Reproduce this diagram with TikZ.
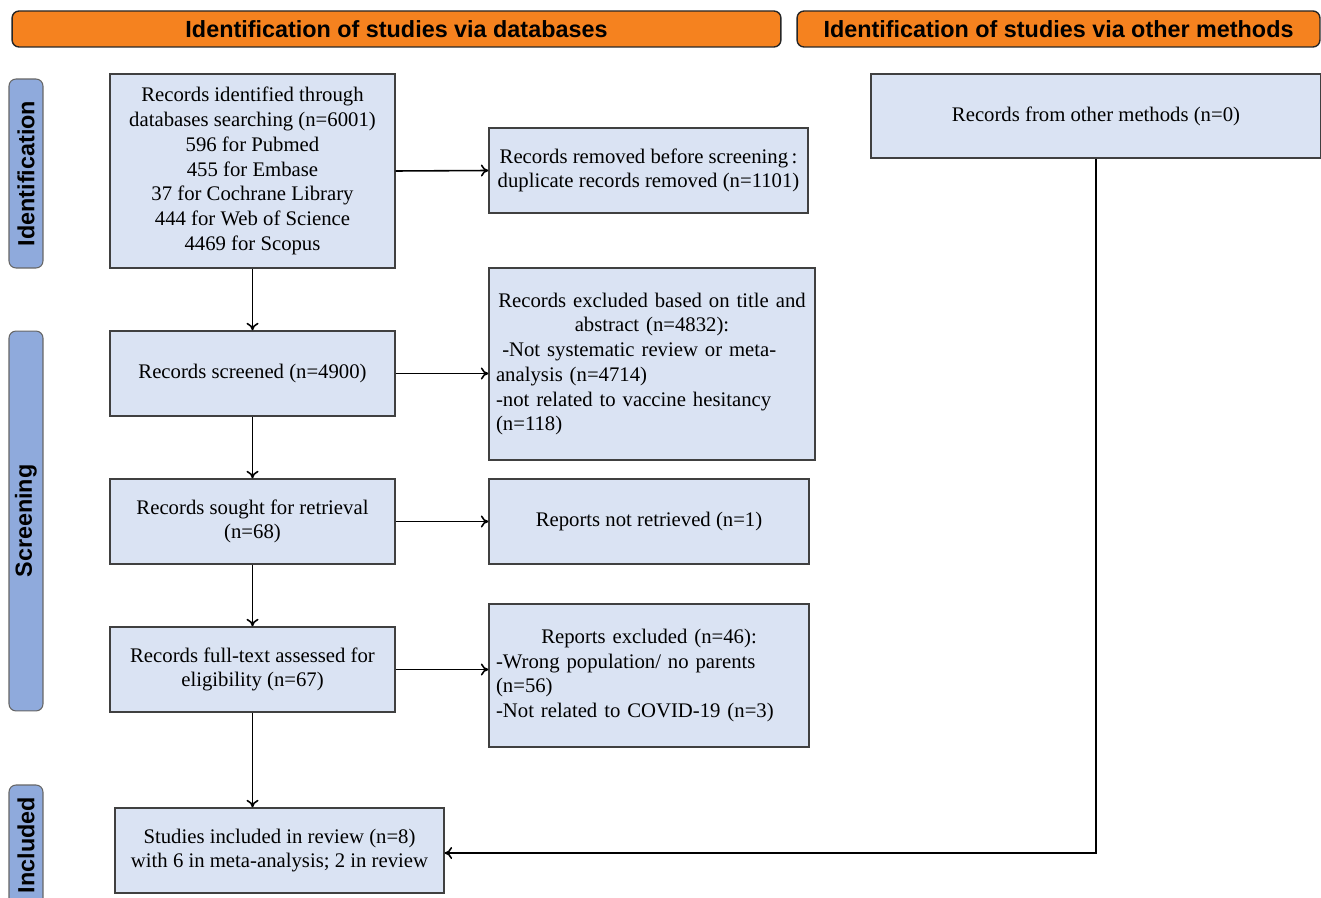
\documentclass[tikz,border=0pt]{standalone}
\usepackage{fontspec}
\setmainfont{Liberation Serif}
\setsansfont{Liberation Sans}
\usetikzlibrary{arrows.meta}

\definecolor{headorange}{HTML}{F5821F}
\definecolor{phaseblue}{HTML}{8FAADC}
\definecolor{boxblue}{HTML}{DAE3F3}
\definecolor{edgegray}{HTML}{404040}

\begin{document}
\begin{tikzpicture}[x=0.02cm,y=-0.02cm,
    box/.style={draw=edgegray, line width=0.8pt, fill=boxblue, inner sep=0pt,
      font=\fontsize{11.8}{14.1}\selectfont, align=center},
    head/.style={draw=black!85, line width=0.8pt, fill=headorange, rounded corners=4pt,
      inner sep=0pt, minimum height=0.72cm, font=\sffamily\bfseries\fontsize{13.3}{16}\selectfont},
    phase/.style={draw=edgegray!80, line width=0.6pt, fill=phaseblue, rounded corners=4pt,
      rotate=90, inner sep=0pt, minimum height=0.68cm, font=\sffamily\bfseries\fontsize{13.3}{16}\selectfont},
    arr/.style={-{To[length=1.5mm,width=2.4mm]}, line width=0.9pt}]
  \useasboundingbox (0,0) rectangle (1321,898);

  % Headers
  \node[head, minimum width=15.38cm] (hdb) at (396.5,29) {Identification of studies via databases};
  \node[head, minimum width=10.46cm] (hother) at (1058.5,29) {Identification of studies via other methods};

  % Phases
  \node[phase, minimum width=3.78cm] (pid) at (26,173.5) {Identification};
  \node[phase, minimum width=7.6cm] (pscr) at (26,521) {Screening};
  \node[phase, minimum width=2.4cm] (pinc) at (26,845) {Included};

  % Boxes
  \node[box, minimum width=5.7cm, minimum height=3.88cm] (ident) at (252.5,171)
    {Records identified through\\ databases searching (n=6001)\\ 596 for Pubmed\\ 455 for Embase\\
     37 for Cochrane Library\\ 444 for Web of Science\\ 4469 for Scopus};
  \node[box, minimum width=6.38cm, minimum height=1.7cm] (removed) at (648.5,170.5)
    {Records removed before screening\,:\\ duplicate records removed (n=1101)};
  \node[box, minimum width=5.7cm, minimum height=1.7cm] (screened) at (252.5,373.5)
    {Records screened (n=4900)};
  \node[box, minimum width=6.52cm, minimum height=3.84cm, text width=6.24cm, align=left] (excl) at (652,364)
    {{\centering Records excluded based on title and\\ abstract (n=4832):\par}
     \hspace*{0.3em}-Not systematic review or meta-\\ analysis (n=4714)\\
     -not related to vaccine hesitancy\\ (n=118)};
  \node[box, minimum width=5.7cm, minimum height=1.7cm] (sought) at (252.5,521.5)
    {Records sought for retrieval\\ (n=68)};
  \node[box, minimum width=6.4cm, minimum height=1.7cm] (notret) at (649,521.5)
    {Reports not retrieved (n=1)};
  \node[box, minimum width=5.7cm, minimum height=1.7cm] (full) at (252.5,669.5)
    {Records full-text assessed for\\ eligibility (n=67)};
  \node[box, minimum width=6.4cm, minimum height=2.86cm, text width=6.12cm, align=left] (repex) at (649,675.5)
    {{\centering Reports excluded (n=46):\par}
     -Wrong population/ no parents\\ (n=56)\\ -Not related to COVID-19 (n=3)};
  \node[box, minimum width=6.58cm, minimum height=1.7cm] (incl) at (279.5,850.5)
    {Studies included in review (n=8)\\ with 6 in meta-analysis; 2 in review};
  \node[box, minimum width=9cm, minimum height=1.68cm] (other) at (1096,116)
    {Records from other methods (n=0)};

  % Arrows
  \draw[arr] (ident.east) -- (removed.west);
  \draw[arr] (ident.south) -- (screened.north);
  \draw[arr] (screened.east) -- (screened.east -| excl.west);
  \draw[arr] (screened.south) -- (sought.north);
  \draw[arr] (sought.east) -- (notret.west);
  \draw[arr] (sought.south) -- (full.north);
  \draw[arr] (full.east) -- (full.east -| repex.west);
  \draw[arr] (full.south) -- (full.south |- incl.north);
  \draw[arr] (other.south) |- ([yshift=-2.5*0.02cm]incl.east);
\end{tikzpicture}
\end{document}
